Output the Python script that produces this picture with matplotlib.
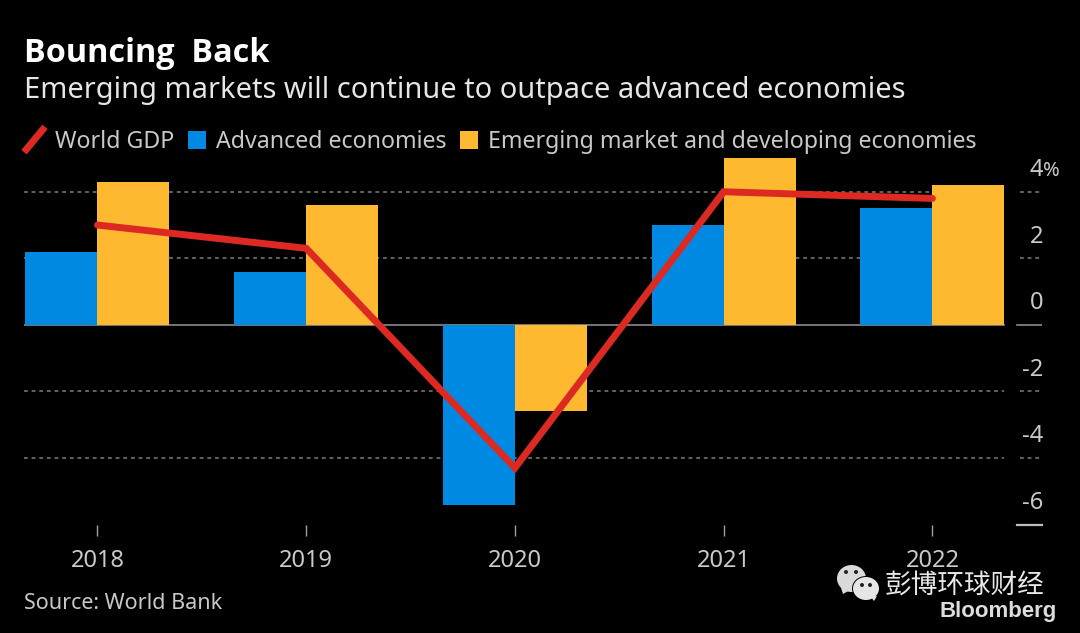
import matplotlib
matplotlib.use("Agg")
import matplotlib.pyplot as plt
from matplotlib.legend_handler import HandlerLine2D, HandlerPatch
from matplotlib.lines import Line2D
from matplotlib.patches import Ellipse, Polygon, Rectangle
from matplotlib.transforms import ScaledTranslation

years = ["2018", "2019", "2020", "2021", "2022"]
advanced = [2.2, 1.6, -5.4, 3.0, 3.5]
emerging = [4.3, 3.6, -2.6, 5.0, 4.2]
world = [3.0, 2.3, -4.3, 4.0, 3.8]
y_ticks = [4, 2, 0, -2, -4, -6]
y_labels = ["4", "2", "0", "-2", "-4", "-6"]

BG = "#000000"
TXT = "#C9C9C9"
BLUE = "#0089E2"
YEL = "#FFB930"
RED = "#DC2A22"
FONT = "Noto Sans"
W, H = 1080, 633

plt.rcParams["font.family"] = [FONT, "DejaVu Sans"]
fig = plt.figure(figsize=(W / 100, H / 100), dpi=100, facecolor=BG)
ax = fig.add_axes([24 / W, (H - 524.5) / H, (1042 - 24) / W, (524.5 - 149.5) / H], facecolor=BG)
x = list(range(len(years)))
bw = 0.345

ax.set_xlim(-0.352, 4.525)
ax.set_ylim(-6, 5.27)
gap1 = (1004 - 24) / 1018
gap2 = (1020 - 24) / 1018
gap3 = (1017 - 24) / 1018
for v in y_ticks:
    if v == 0:
        ax.axhline(v, 0, gap1, color="#8A8A8A", lw=1.2, zorder=1)
        ax.axhline(v, gap3, 1, color="#8A8A8A", lw=1.2, zorder=1)
    elif v == -6:
        ax.axhline(v, gap3, 1, color="#BDBDBD", lw=1.6, zorder=1, clip_on=False)
    else:
        ax.axhline(v, 0, gap1, color="#7C7C7C", lw=1.1, ls=(0, (2.5, 2.5)), zorder=1)
        ax.axhline(v, gap2, 1, color="#7C7C7C", lw=1.1, ls=(0, (2.5, 2.5)), zorder=1)

ax.bar([i - bw / 2 for i in x], advanced, bw, color=BLUE, zorder=2, label="Advanced economies")
ax.bar([i + bw / 2 for i in x], emerging, bw, color=YEL, zorder=2,
       label="Emerging market and developing economies")
ax.plot(x, world, color=RED, lw=5, zorder=3, solid_capstyle="round", solid_joinstyle="miter",
        label="World GDP")

for s in ax.spines.values():
    s.set_visible(False)
ax.set_xticks(x, years)
ax.tick_params(axis="x", length=8, width=1, color="#A0A0A0", labelcolor=TXT, labelsize=17, pad=9.5)
ax.yaxis.tick_right()
ax.set_yticks(y_ticks, y_labels)
ax.tick_params(axis="y", length=0, pad=1, labelcolor=TXT, labelsize=17)
off = ScaledTranslation(0, 15.5 / 100, fig.dpi_scale_trans)
for lab in ax.get_yticklabels():
    lab.set_ha("right")
    lab.set_va("baseline")
    lab.set_transform(lab.get_transform() + off)
fig.text(1043 / W, (H - 176) / H, "%", color=TXT, fontsize=14.5, ha="left", va="baseline")


class DiagonalLine(HandlerLine2D):
    def create_artists(self, legend, orig, xd, yd, width, height, fontsize, trans):
        ln = Line2D([0, width], [-3, height + 3], color=orig.get_color(), lw=orig.get_linewidth(),
                    solid_capstyle="butt", transform=trans)
        return [ln]


class SquarePatch(HandlerPatch):
    def create_artists(self, legend, orig, xd, yd, width, height, fontsize, trans):
        s = 18 * 72 / 100
        r = Rectangle((width - s, (height - s) / 2), s, s, fc=orig.get_facecolor(), ec="none", transform=trans)
        return [r]


h, l = ax.get_legend_handles_labels()
order = [l.index("World GDP"), l.index("Advanced economies"),
         l.index("Emerging market and developing economies")]
hm = {h[order[0]]: DiagonalLine()}
hm[h[order[1]].patches[0]] = SquarePatch()
hm[h[order[2]].patches[0]] = SquarePatch()
leg = fig.legend([h[order[0]], h[order[1]].patches[0], h[order[2]].patches[0]], [l[i] for i in order],
                 ncol=3, frameon=False,
                 loc="center left", bbox_to_anchor=(24 / W, (H - 142) / H), borderaxespad=0, borderpad=0,
                 fontsize=16.7, labelcolor=TXT, handlelength=0.905, handleheight=0.75, handletextpad=0.44,
                 columnspacing=0.45, handler_map=hm)

fig.text(24 / W, (H - 62) / H, "Bouncing  Back", color="white", fontsize=23.3, fontweight="bold",
         family=["Open Sans", "DejaVu Sans"], va="baseline")
fig.text(24 / W, (H - 98) / H, "Emerging markets will continue to outpace advanced economies",
         color="#E6E6E6", fontsize=20.93, va="baseline")
fig.text(24 / W, (H - 609) / H, "Source: World Bank", color=TXT, fontsize=15.5, va="baseline")

# watermark
fig.text(885 / W, (H - 593) / H, "彭博环球财经", color="#E8E8E8", fontsize=19.2,
         family=["Noto Sans CJK SC", "DejaVu Sans"], va="baseline")
fig.text(1057 / W, (H - 617.5) / H, "Bloomberg", color="#DDDDDD", fontsize=16, fontweight="bold",
         family=["Liberation Sans", "DejaVu Sans"], ha="right", va="baseline")
wm = fig.transFigure
def px(a, b):
    return (a / W, (H - b) / H)
fig.add_artist(Polygon([px(841, 588), px(843, 594), px(850, 590)], transform=wm, fc="#DADADA", ec="none"))
fig.add_artist(Ellipse(px(851.5, 578.5), 29 / W, 27 / H, transform=wm, fc="#DADADA", ec="none"))
fig.add_artist(Ellipse(px(866, 588.5), 28 / W, 25 / H, transform=wm, fc=BG, ec="none"))
fig.add_artist(Ellipse(px(866, 588.5), 26 / W, 23 / H, transform=wm, fc="#E6E6E6", ec="none"))
fig.add_artist(Polygon([px(871, 597), px(874, 601), px(877, 596)], transform=wm, fc="#E6E6E6", ec="none"))
for cx, cy in [(846, 572), (856, 572), (862, 585), (870, 585)]:
    fig.add_artist(Ellipse(px(cx, cy), 4 / W, 4 / H, transform=wm, fc="#222222", ec="none"))

fig.savefig("out.png", dpi=100, facecolor=BG)
